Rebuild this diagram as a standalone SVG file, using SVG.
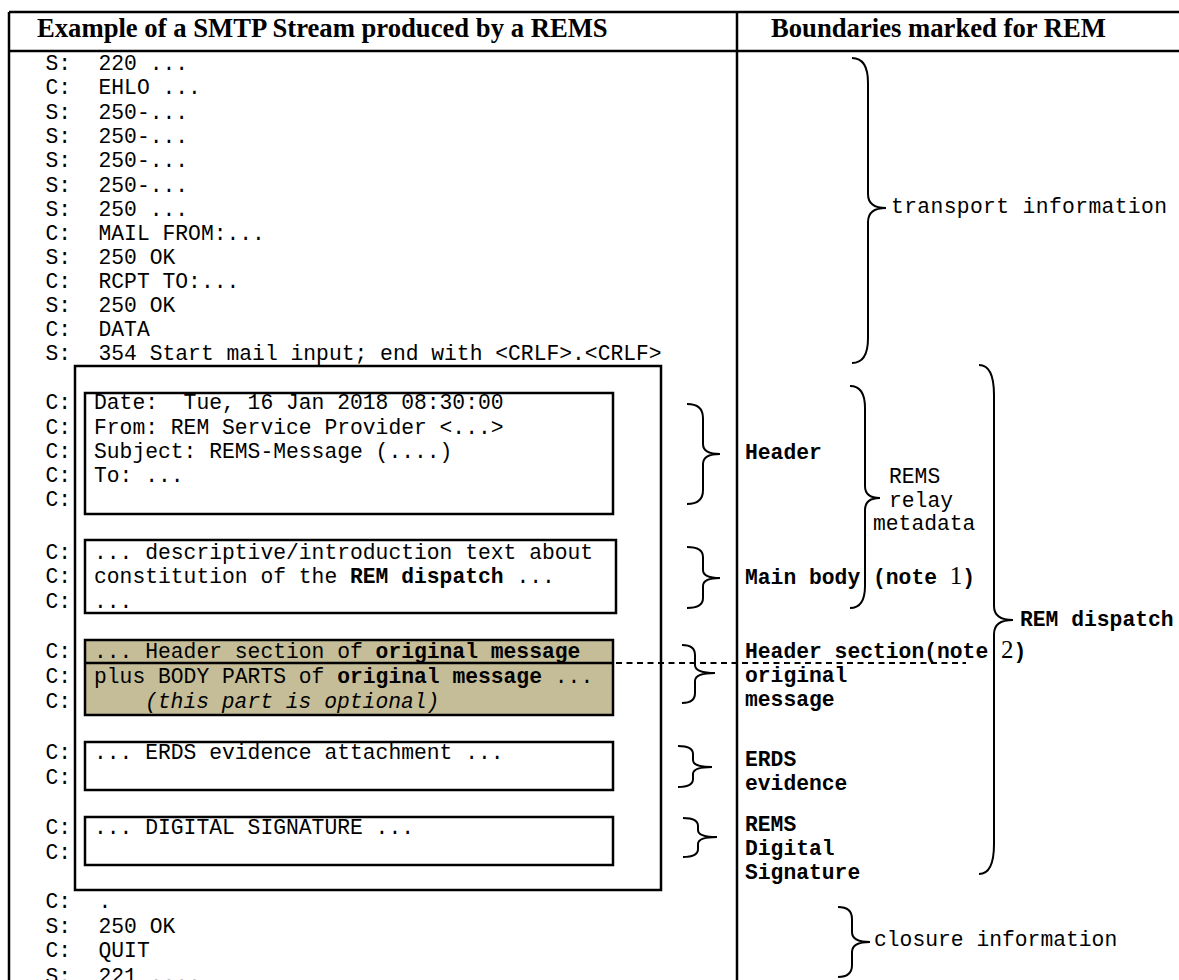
<svg xmlns="http://www.w3.org/2000/svg" width="1179" height="980" viewBox="0 0 1179 980">
<style>
.hd{font-family:"Liberation Serif","Times New Roman",serif;font-weight:bold;font-size:26.67px;fill:#000}
.m{font-family:"Liberation Mono","Courier New",monospace;font-size:21.33px;fill:#000;white-space:pre}
.b{font-weight:bold}
.i{font-style:italic}
.sd{font-family:"Liberation Serif","Times New Roman",serif;font-weight:normal;font-size:25px}
.box{fill:#fff;stroke:#000;stroke-width:2.5}
.tan{fill:#C4BD97;stroke:#000;stroke-width:2.5}
.ln{stroke:#000;stroke-width:2.5;fill:none}
.br{fill:none;stroke:#000;stroke-width:2}
.dash{stroke:#000;stroke-width:2;stroke-dasharray:6 4.5;fill:none}
</style>
<rect width="1179" height="980" fill="#fff"/>
<g id="table">
<line class="ln" x1="9" y1="12" x2="1179" y2="12"/>
<line class="ln" x1="9" y1="51" x2="1179" y2="51"/>
<line class="ln" x1="9" y1="12" x2="9" y2="980"/>
<line class="ln" x1="737" y1="12" x2="737" y2="980"/>
<text class="hd" x="37" y="37">Example of a SMTP Stream produced by a REMS</text>
<text class="hd" x="771" y="37">Boundaries marked for REM</text>
</g>
<g id="transport-lines">
<text class="m" x="45.5" y="69.5">S:</text><text class="m" x="98.5" y="69.5">220 ...</text>
<text class="m" x="45.5" y="94">C:</text><text class="m" x="98.5" y="94">EHLO ...</text>
<text class="m" x="45.5" y="118.5">S:</text><text class="m" x="98.5" y="118.5">250-...</text>
<text class="m" x="45.5" y="143">S:</text><text class="m" x="98.5" y="143">250-...</text>
<text class="m" x="45.5" y="167">S:</text><text class="m" x="98.5" y="167">250-...</text>
<text class="m" x="45.5" y="191.5">S:</text><text class="m" x="98.5" y="191.5">250-...</text>
<text class="m" x="45.5" y="215.5">S:</text><text class="m" x="98.5" y="215.5">250 ...</text>
<text class="m" x="45.5" y="240">C:</text><text class="m" x="98.5" y="240">MAIL FROM:...</text>
<text class="m" x="45.5" y="263.5">S:</text><text class="m" x="98.5" y="263.5">250 OK</text>
<text class="m" x="45.5" y="288">C:</text><text class="m" x="98.5" y="288">RCPT TO:...</text>
<text class="m" x="45.5" y="311.5">S:</text><text class="m" x="98.5" y="311.5">250 OK</text>
<text class="m" x="45.5" y="335.5">C:</text><text class="m" x="98.5" y="335.5">DATA</text>
<text class="m" x="45.5" y="359.5">S:</text><text class="m" x="98.5" y="359.5">354 Start mail input; end with &lt;CRLF&gt;.&lt;CRLF&gt;</text>
</g>
<g id="dispatch-box">
<rect class="box" x="75" y="366" width="586" height="524"/>
</g>
<g id="header-box">
<rect class="box" x="85" y="393" width="528" height="121"/>
<text class="m" x="45.5" y="409">C:</text><text class="m" x="94" y="409" xml:space="preserve">Date:  Tue, 16 Jan 2018 08:30:00</text>
<text class="m" x="45.5" y="433.5">C:</text><text class="m" x="94" y="433.5">From: REM Service Provider &lt;...&gt;</text>
<text class="m" x="45.5" y="458">C:</text><text class="m" x="94" y="458">Subject: REMS-Message (....)</text>
<text class="m" x="45.5" y="482">C:</text><text class="m" x="94" y="482">To: ...</text>
<text class="m" x="45.5" y="506">C:</text>
</g>
<g id="main-body-box">
<rect class="box" x="85" y="540" width="531" height="73"/>
<text class="m" x="45.5" y="559">C:</text><text class="m" x="94" y="559">... descriptive/introduction text about</text>
<text class="m" x="45.5" y="583">C:</text><text class="m" x="94" y="583">constitution of the <tspan class="b">REM dispatch</tspan> ...</text>
<text class="m" x="45.5" y="607.5">C:</text><text class="m" x="94" y="607.5">...</text>
</g>
<g id="original-message-box">
<rect class="tan" x="85" y="640" width="528" height="75"/>
<line class="ln" x1="85" y1="663" x2="613" y2="663"/>
<text class="m" x="45.5" y="658">C:</text><text class="m" x="94" y="658">... Header section of <tspan class="b">original message</tspan></text>
<text class="m" x="45.5" y="683">C:</text><text class="m" x="94" y="683">plus BODY PARTS of <tspan class="b">original message</tspan> ...</text>
<text class="m" x="45.5" y="708">C:</text><text class="m i" x="145" y="708">(this part is optional)</text>
</g>
<g id="erds-box">
<rect class="box" x="85" y="742" width="528" height="48"/>
<text class="m" x="45.5" y="759">C:</text><text class="m" x="94" y="759">... ERDS evidence attachment ...</text>
<text class="m" x="45.5" y="784">C:</text>
</g>
<g id="signature-box">
<rect class="box" x="85" y="817" width="528" height="48"/>
<text class="m" x="45.5" y="834">C:</text><text class="m" x="94" y="834">... DIGITAL SIGNATURE ...</text>
<text class="m" x="45.5" y="859">C:</text>
</g>
<g id="closure-lines">
<text class="m" x="45.5" y="908">C:</text><text class="m" x="98.5" y="908">.</text>
<text class="m" x="45.5" y="933">S:</text><text class="m" x="98.5" y="933">250 OK</text>
<text class="m" x="45.5" y="957">C:</text><text class="m" x="98.5" y="957">QUIT</text>
<text class="m" x="45.5" y="983">S:</text><text class="m" x="98.5" y="983">221 ....</text>
</g>
<g id="connectors">
<line class="dash" x1="616" y1="663" x2="966" y2="663"/>
<path class="br" d="M852,58 Q868,58 868,83 V194 Q868,208 886,208 Q868,208 868,222 V338 Q868,363 852,363"/>
<path class="br" d="M850,386 Q865,386 865,408 V486 Q865,498 880,498 Q865,498 865,510 V586 Q865,608 850,608"/>
<path class="br" d="M979,365 Q994,365 994,395 V606 Q994,620 1013,620 Q994,620 994,634 V844 Q994,874 979,874"/>
<path class="br" d="M838,907 Q852,907 852,919 V932 Q852,942 870,942 Q852,942 852,952 V965 Q852,977 838,977"/>
<path class="br" d="M687,404 Q703,404 703,418 V444 Q703,454 720,454 Q703,454 703,464 V490 Q703,504 687,504"/>
<path class="br" d="M687,547 Q703,547 703,557 V570 Q703,578 720,578 Q703,578 703,586 V598 Q703,608 687,608"/>
<path class="br" d="M682,645 Q695,645 695,655 V665 Q695,673 715,673 Q695,673 695,681 V693 Q695,703 682,703"/>
<path class="br" d="M678,746 Q693,746 693,754 V760 Q693,767 712,767 Q693,767 693,774 V779 Q693,787 678,787"/>
<path class="br" d="M683,818 Q698,818 698,826 V830 Q698,837 717,837 Q698,837 698,844 V849 Q698,857 683,857"/>
</g>
<g id="label-transport"><text class="m" x="891" y="212.5" textLength="276">transport information</text></g>
<g id="label-relay"><text class="m" x="889" y="483">REMS</text><text class="m" x="889" y="506.5">relay</text><text class="m" x="873" y="530">metadata</text></g>
<g id="label-header"><text class="m b" x="745" y="459">Header</text></g>
<g id="label-main"><text class="m b" x="745" y="583.5" xml:space="preserve">Main body (note <tspan class="sd">1</tspan>)</text></g>
<g id="label-original"><text class="m b" x="745" y="658" xml:space="preserve">Header section(note <tspan class="sd">2</tspan>)</text><text class="m b" x="745" y="682">original</text><text class="m b" x="745" y="706">message</text></g>
<g id="label-erds"><text class="m b" x="745" y="766">ERDS</text><text class="m b" x="745" y="790">evidence</text></g>
<g id="label-signature"><text class="m b" x="745" y="831">REMS</text><text class="m b" x="745" y="855">Digital</text><text class="m b" x="745" y="879">Signature</text></g>
<g id="label-dispatch"><text class="m b" x="1020" y="626">REM dispatch</text></g>
<g id="label-closure"><text class="m" x="874" y="946">closure information</text></g>
</svg>
